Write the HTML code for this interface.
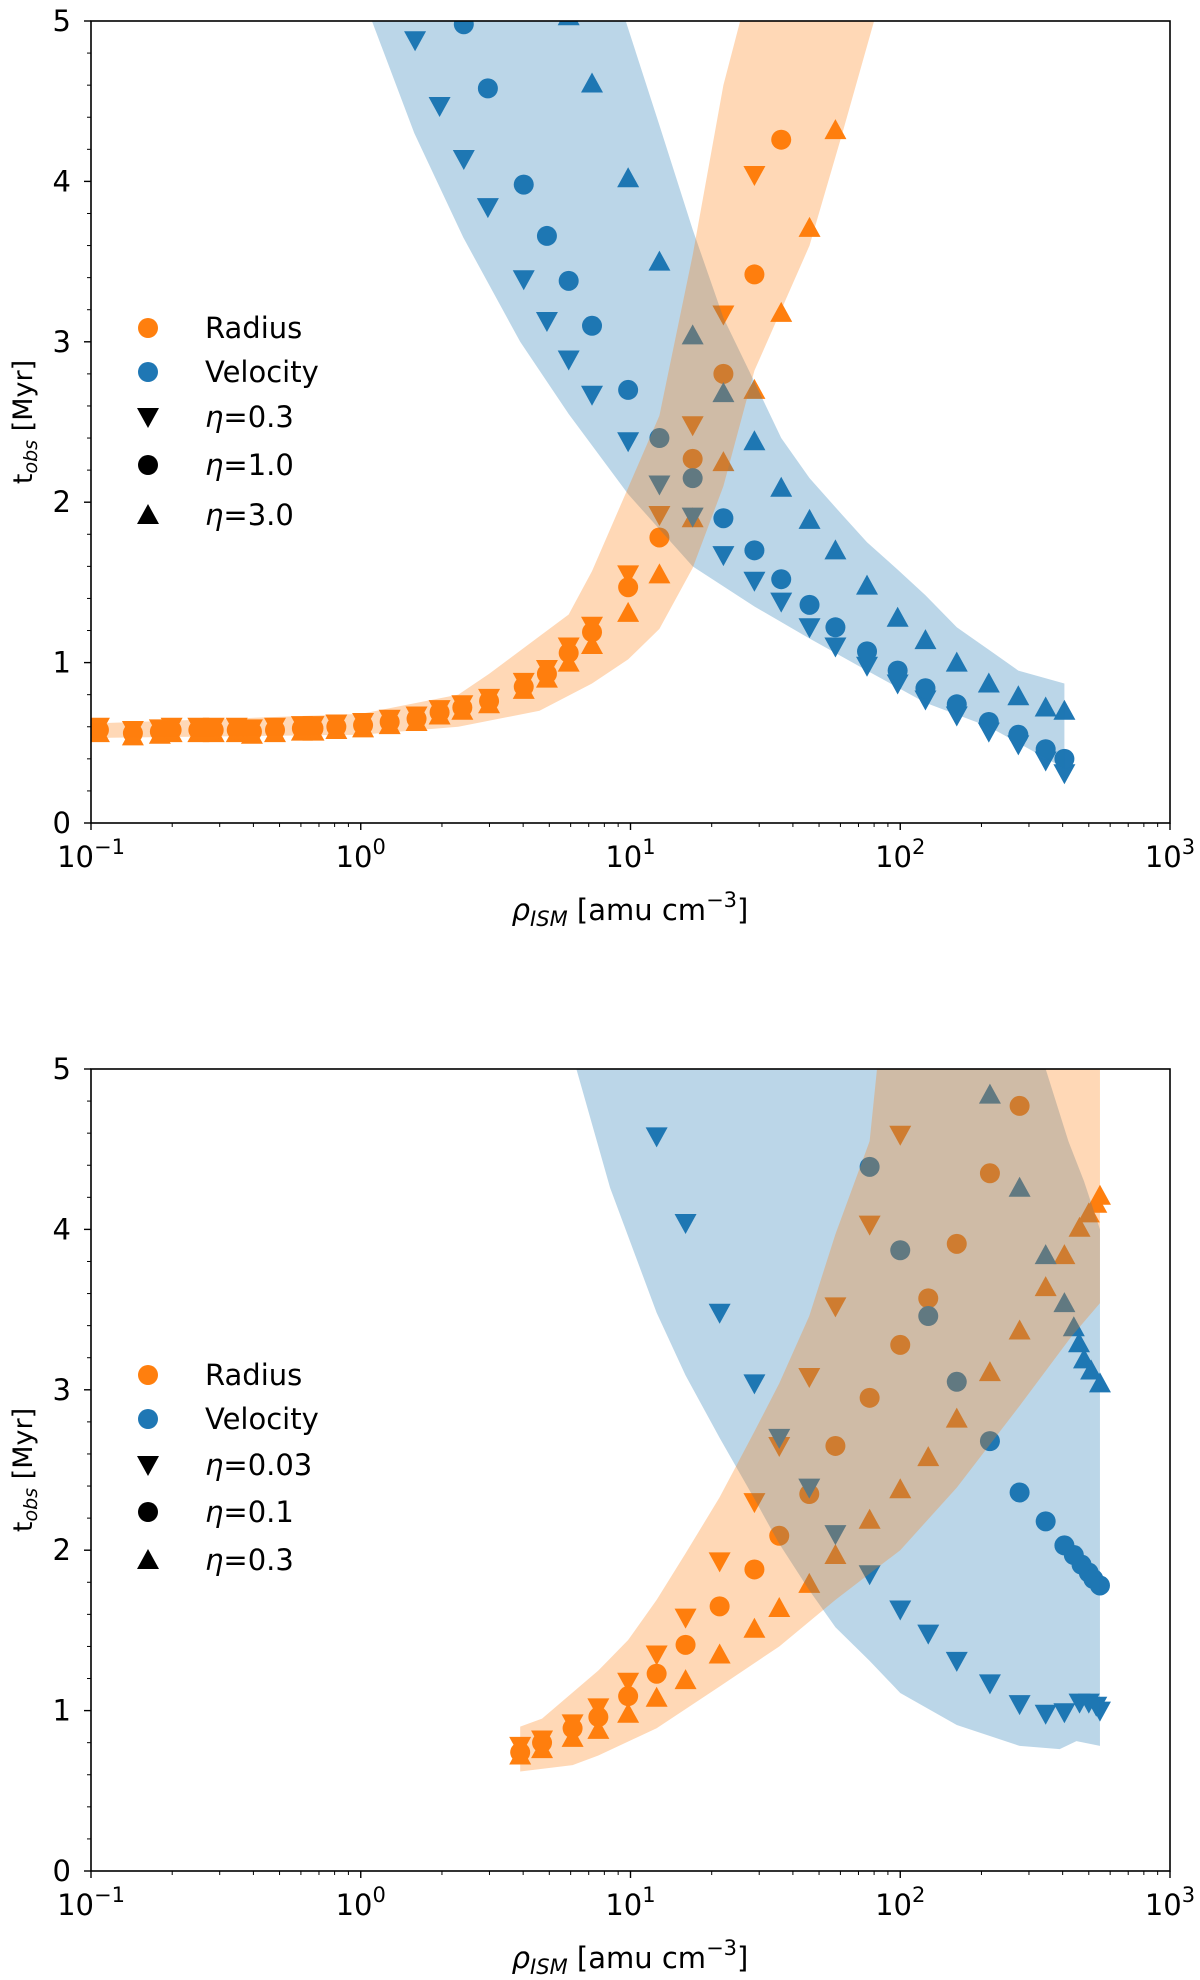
<!DOCTYPE html>
<html><head><meta charset="utf-8"><style>
html,body{margin:0;padding:0;background:#fff;}
svg{display:block;font-family:"DejaVu Sans","Liberation Sans",sans-serif;}
</style></head><body>
<svg id="fig" width="1200" height="1980" viewBox="0 0 1200 1980" xmlns="http://www.w3.org/2000/svg">
<defs>
<clipPath id="clipTop"><rect x="91" y="21" width="1079" height="802"/></clipPath>
<clipPath id="clipBot"><rect x="91" y="1069" width="1079" height="803"/></clipPath>
</defs>
<g id="top"></g>
<g id="bot"></g>
</svg>
<script>
// ---------- shared ----------
const xTickExps = [-1, 0, 1, 2, 3];
const yTickVals = [0, 1, 2, 3, 4, 5];

// ---------- TOP PANEL DATA ----------
const topXLow = [0.107,0.143,0.180,0.199,0.250,0.285,0.347,0.395,0.481,0.605,0.668,0.812,1.02,1.28,1.61,1.96,2.38,2.99];
const topRLowY = [0.58,0.56,0.57,0.58,0.58,0.58,0.58,0.57,0.58,0.59,0.59,0.60,0.61,0.63,0.65,0.69,0.72,0.76];
const topRX = [4.02,4.9,5.9,7.2,9.8,12.8,17.0,22.1,28.8,36.2,46.1,57.5];
const topR03 = [0.88,0.96,1.10,1.23,1.55,1.92,2.48,3.17,4.04];
const topR10 = [0.85,0.93,1.06,1.19,1.47,1.78,2.27,2.80,3.42,4.26];
const topR30 = [0.83,0.90,1.00,1.11,1.31,1.55,1.90,2.25,2.70,3.18,3.71,4.32];
const topV03X = [1.59,1.96,2.41,2.96,4.02,4.9,5.9,7.2,9.8,12.8,17.0,22.1,28.8,36.2,46.1,57.5,75.3,97.8,124,162,213,274,346,406];
const topV03 = [4.88,4.47,4.14,3.84,3.39,3.13,2.89,2.67,2.38,2.11,1.91,1.67,1.51,1.38,1.22,1.10,0.98,0.87,0.77,0.67,0.57,0.49,0.39,0.31];
const topV10X = [2.41,2.96,4.02,4.9,5.9,7.2,9.8,12.8,17.0,22.1,28.8,36.2,46.1,57.5,75.3,97.8,124,162,213,274,346,406];
const topV10 = [4.98,4.58,3.98,3.66,3.38,3.10,2.70,2.40,2.15,1.90,1.70,1.52,1.36,1.22,1.07,0.95,0.84,0.74,0.63,0.55,0.46,0.40];
const topV30X = [5.9,7.2,9.8,12.8,17.0,22.1,28.8,36.2,46.1,57.5,75.3,97.8,124,162,213,274,346,406];
const topV30 = [5.03,4.61,4.02,3.50,3.04,2.68,2.38,2.09,1.89,1.70,1.48,1.28,1.14,1.00,0.87,0.79,0.72,0.70];
// bands (density, t)
const topOrLoX = [0.1,1.0,2.3,4.6,7.2,9.8,12.8,17.0,22.1,28.8,46.1,61,80];
const topOrLoY = [0.53,0.55,0.60,0.70,0.87,1.02,1.21,1.59,2.10,2.82,3.60,4.30,5.0];
const topOrHiX = [0.1,1.0,2.3,2.99,5.9,7.2,12.8,17.0,22.1,25.5];
const topOrHiY = [0.62,0.68,0.80,0.93,1.30,1.57,2.54,3.54,4.60,5.0];
const topBlLoX = [1.1,1.58,2.4,3.9,5.9,9.8,17.0,28.8,46.1,75.3,124,213,406];
const topBlLoY = [5.0,4.30,3.65,3.00,2.55,2.05,1.60,1.35,1.15,0.95,0.75,0.60,0.34];
const topBlHiX = [9.6,12.8,17.0,22.1,28.8,36.2,46.1,61,75.3,97.8,124,162,213,274,406];
const topBlHiY = [5.0,4.35,3.70,3.15,2.75,2.40,2.15,1.92,1.75,1.58,1.42,1.22,1.08,0.95,0.87];

// ---------- BOTTOM PANEL DATA ----------
const botRX = [3.9,4.7,6.1,7.6,9.8,12.5,16.0,21.4,28.8,35.6,46.0,57.5,77,100,127,162,215,277,346,406,462,500,533,550];
const botR003 = [0.78,0.82,0.92,1.02,1.18,1.35,1.58,1.93,2.30,2.65,3.08,3.52,4.03,4.59];
const botR01 = [0.74,0.80,0.89,0.96,1.09,1.23,1.41,1.65,1.88,2.09,2.35,2.65,2.95,3.28,3.57,3.91,4.35,4.77];
const botR03 = [0.72,0.76,0.83,0.88,0.98,1.08,1.19,1.35,1.51,1.64,1.79,1.97,2.19,2.38,2.58,2.82,3.11,3.37,3.64,3.84,4.01,4.10,4.16,4.21];
const botV003X = [12.5,16.0,21.4,28.8,35.6,46.0,57.5,77,100,127,162,215,277,346,406,462,500,533,550];
const botV003 = [4.58,4.04,3.48,3.04,2.70,2.39,2.10,1.85,1.63,1.48,1.31,1.17,1.04,0.98,0.99,1.05,1.05,1.03,1.00];
const botV01X = [77,100,127,162,215,277,346,406,440,470,500,520,550];
const botV01 = [4.39,3.87,3.46,3.05,2.68,2.36,2.18,2.03,1.97,1.91,1.86,1.82,1.78];
const botV03X = [215,277,346,406,440,460,480,510,550];
const botV03 = [4.84,4.26,3.84,3.54,3.39,3.29,3.19,3.12,3.04];
const botOrLoX = [3.9,6.1,7.6,12.5,21.4,35.6,57.5,100,162,277,430,550];
const botOrLoY = [0.62,0.66,0.72,0.89,1.15,1.40,1.69,2.00,2.39,2.90,3.33,3.54];
const botOrHiX = [3.9,4.7,7.6,9.8,12.5,16.0,21.4,28.8,35.6,46.0,57.5,77,82];
const botOrHiY = [0.90,0.95,1.25,1.44,1.69,1.98,2.33,2.74,3.04,3.46,3.97,4.55,5.0];
const botBlLoX = [6.3,8.4,12.5,16.0,21.4,28.8,35.6,46.0,57.5,77,100,162,277,390,450,550];
const botBlLoY = [5.0,4.26,3.48,3.09,2.70,2.32,2.04,1.75,1.52,1.31,1.11,0.91,0.78,0.76,0.81,0.78];
const botBlHiX = [346,420,480,550];
const botBlHiY = [5.0,4.55,4.30,4.00];

// ---------- drawing ----------
const NS = 'http://www.w3.org/2000/svg';
const ORANGE = '#ff7f0e', BLUE = '#1f77b4';
function mk(tag, attrs, parent){ const e = document.createElementNS(NS, tag); for (const k in attrs) e.setAttribute(k, attrs[k]); parent.appendChild(e); return e; }

function makeAxes(y0){
  const L = 91, R = 1170, T = y0, B = y0 + 802;
  return {L, R, T, B,
    sx: v => L + (Math.log10(v) + 1) / 4 * (R - L),
    sy: v => B - v / 5 * (B - T)};
}

function marker(g, shape, x, y, color){
  let e;
  if (shape === 'o') {
    e = mk('circle', {cx: x, cy: y, r: 10, fill: color}, g);
  } else if (shape === 'v') {
    e = mk('polygon', {points: `${x-11},${y-9} ${x+11},${y-9} ${x},${y+11}`, fill: color}, g);
  } else {
    e = mk('polygon', {points: `${x-11},${y+9} ${x+11},${y+9} ${x},${y-11}`, fill: color}, g);
  }
  return e;
}

function series(g, ax, xs, ys, shape, color, name){
  const sg = mk('g', {}, g);
  
  
  for (let i = 0; i < ys.length; i++) {
    const m = marker(sg, shape, ax.sx(xs[i]), ax.sy(ys[i]), color);
    
    
  }
}

function band(g, ax, loX, loY, hiX, hiY, color, name){
  let pts = [];
  for (let i = 0; i < loX.length; i++) pts.push(ax.sx(loX[i]) + ',' + ax.sy(loY[i]));
  for (let i = hiX.length - 1; i >= 0; i--) pts.push(ax.sx(hiX[i]) + ',' + ax.sy(hiY[i]));
  const p = mk('polygon', {points: pts.join(' '), fill: color, 'fill-opacity': 0.3}, g);
  
  
}

function frame(g, ax, xlabelY){
  // spines
  const f = mk('rect', {x: ax.L, y: ax.T, width: ax.R - ax.L, height: ax.B - ax.T, fill: 'none', stroke: '#000', 'stroke-width': 1.6}, g);
  
  
  // x ticks
  for (let k = 0; k < xTickExps.length; k++) {
    const e = xTickExps[k];
    const x = ax.sx(Math.pow(10, e));
    mk('line', {x1: x, y1: ax.B, x2: x, y2: ax.B + 7, stroke: '#000', 'stroke-width': 1.4}, g);
    const t = mk('text', {x: x, y: ax.B + 44, 'font-size': 29, 'text-anchor': 'middle'}, g);
    
    
    t.innerHTML = '10<tspan dy="-13" font-size="21">' + (e < 0 ? '\u2212' + (-e) : e) + '</tspan>';
    if (k < xTickExps.length - 1) {
      for (let m = 2; m <= 9; m++) {
        const xm = ax.sx(m * Math.pow(10, e));
        mk('line', {x1: xm, y1: ax.B, x2: xm, y2: ax.B + 4, stroke: '#000', 'stroke-width': 1}, g);
      }
    }
  }
  // y ticks
  for (let v = 0; v <= 5.0001; v += 0.2) {
    const y = ax.sy(v);
    const major = Math.abs(v - Math.round(v)) < 1e-6;
    mk('line', {x1: ax.L, y1: y, x2: ax.L - (major ? 7 : 4), y2: y, stroke: '#000', 'stroke-width': major ? 1.4 : 1}, g);
  }
  for (const v of yTickVals) {
    const t = mk('text', {x: 71, y: ax.sy(v) + 10, 'font-size': 29, 'text-anchor': 'end'}, g);
    
    
    t.textContent = v;
  }
  // labels
  const xl = mk('text', {x: 630, y: xlabelY, 'font-size': 29, 'text-anchor': 'middle'}, g);
  
  
  xl.innerHTML = '<tspan font-style="italic">\u03C1</tspan><tspan font-size="21" dy="6" font-style="italic">ISM</tspan><tspan dy="-6"> [amu cm</tspan><tspan dy="-13" font-size="21">\u22123</tspan><tspan dy="13">]</tspan>';
  const cy = (ax.T + ax.B) / 2;
  const yl = mk('text', {x: 0, y: 0, 'font-size': 27, 'text-anchor': 'middle', transform: `translate(32,${cy}) rotate(-90)`}, g);
  
  
  yl.innerHTML = 't<tspan font-size="19" dy="5" font-style="italic">obs</tspan><tspan dy="-5"> [Myr]</tspan>';
}

function legend(g, rows, labels){
  const lg = mk('g', {}, g);
  
  
  const shapes = ['o', 'o', 'v', 'o', '^'];
  const cols = [ORANGE, BLUE, '#000', '#000', '#000'];
  for (let i = 0; i < 5; i++) {
    const eg = mk('g', {}, lg);
    
    
    marker(eg, shapes[i], 148, rows[i], cols[i]);
    const t = mk('text', {x: 205, y: rows[i] + 10, 'font-size': 29}, eg);
    if (i < 2) t.textContent = labels[i];
    else t.innerHTML = '<tspan font-style="italic">\u03B7</tspan>=' + labels[i];
  }
}

// TOP
(function(){
  const g = document.getElementById('top');
  const ax = makeAxes(21);
  const pg = mk('g', {'clip-path': 'url(#clipTop)'}, g);
  const lowX3 = topXLow;
  series(pg, ax, lowX3, topRLowY.map(v => v + 0.02), 'v', ORANGE, 'radius-eta-0.3-low');
  series(pg, ax, lowX3, topRLowY.map(v => v - 0.02), '^', ORANGE, 'radius-eta-3.0-low');
  series(pg, ax, lowX3, topRLowY, 'o', ORANGE, 'radius-eta-1.0-low');
  series(pg, ax, topRX, topR03, 'v', ORANGE, 'radius-eta-0.3');
  series(pg, ax, topRX, topR30, '^', ORANGE, 'radius-eta-3.0');
  series(pg, ax, topRX, topR10, 'o', ORANGE, 'radius-eta-1.0');
  series(pg, ax, topV03X, topV03, 'v', BLUE, 'velocity-eta-0.3');
  series(pg, ax, topV10X, topV10, 'o', BLUE, 'velocity-eta-1.0');
  series(pg, ax, topV30X, topV30, '^', BLUE, 'velocity-eta-3.0');
  band(pg, ax, topBlLoX, topBlLoY, topBlHiX, topBlHiY, BLUE, 'velocity-band');
  band(pg, ax, topOrLoX, topOrLoY, topOrHiX, topOrHiY, ORANGE, 'radius-band');
  frame(g, ax, 920);
  legend(g, [328, 372, 417, 465, 515], ['Radius', 'Velocity', '0.3', '1.0', '3.0']);
})();

// BOTTOM
(function(){
  const g = document.getElementById('bot');
  const ax = makeAxes(1069);
  const pg = mk('g', {'clip-path': 'url(#clipBot)'}, g);
  series(pg, ax, botRX, botR003, 'v', ORANGE, 'radius-eta-0.03');
  series(pg, ax, botRX, botR03, '^', ORANGE, 'radius-eta-0.3');
  series(pg, ax, botRX, botR01, 'o', ORANGE, 'radius-eta-0.1');
  series(pg, ax, botV003X, botV003, 'v', BLUE, 'velocity-eta-0.03');
  series(pg, ax, botV01X, botV01, 'o', BLUE, 'velocity-eta-0.1');
  series(pg, ax, botV03X, botV03, '^', BLUE, 'velocity-eta-0.3');
  band(pg, ax, botBlLoX, botBlLoY, botBlHiX, botBlHiY, BLUE, 'velocity-band');
  // orange band: lower edge, then up the right side to top, then upper edge
  band(pg, ax, botOrLoX.concat([550]), botOrLoY.concat([5.0]), botOrHiX, botOrHiY, ORANGE, 'radius-band');
  frame(g, ax, 1968);
  legend(g, [1375, 1419, 1465, 1512, 1560], ['Radius', 'Velocity', '0.03', '0.1', '0.3']);
})();
</script>
</body></html>
